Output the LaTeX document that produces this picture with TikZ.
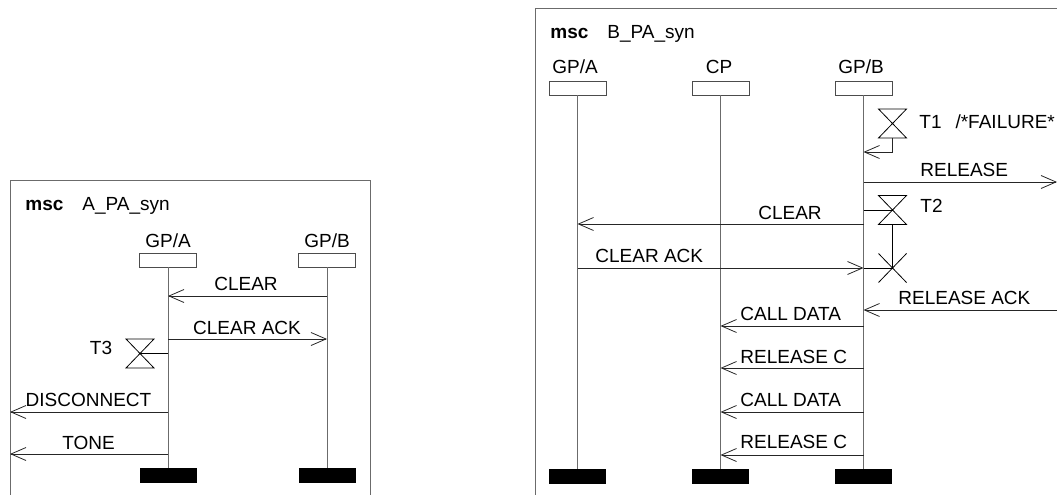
\documentclass[tikz,border=0pt]{standalone}
\usepackage{fontspec}
\setmainfont{Liberation Sans}
\usetikzlibrary{arrows.meta}

\begin{document}
\begin{tikzpicture}[x=1pt, y=-1pt, line width=0.8pt,
  every node/.style={font=\fontsize{19}{22}\selectfont, inner sep=0pt},
  title/.style={font=\fontsize{19}{22}\selectfont\bfseries, anchor=base west},
  inst/.style={draw=black!70, fill=white, minimum width=57pt, minimum height=14pt},
  endbar/.style={fill=black, minimum width=57pt, minimum height=15pt},
  life/.style={draw=black!58},
  frame/.style={draw=black!58},
  msg/.style={draw=black!85, -{Straight Barb[length=15pt,width=13pt]}},
  timer/.pic={\draw (-14,-14.5) -- (14,-14.5) -- (-14,14.5) -- (14,14.5) -- cycle;}]
  \useasboundingbox (0,0) rectangle (1057,495);
  \clip (0,0) rectangle (1057,495);

  % msc A_PA_syn
  \draw[frame] (10,180) rectangle (370,520);
  \node[title] (la_msc) at (25,210) {msc};
  \node[anchor=base west] (la_name) at (82,210) {A\_PA\_syn};

  \node[inst] (la_gpa) at (168,260) {};
  \node[inst] (la_gpb) at (327,260) {};
  \node[anchor=base] (la_gpa_t) at (168,247) {GP/A};
  \node[anchor=base] (la_gpb_t) at (327,247) {GP/B};
  \node[endbar] (la_enda) at (168,475.5) {};
  \node[endbar] (la_endb) at (327,475.5) {};
  \draw[life] (la_gpa) -- (la_enda);
  \draw[life] (la_gpb) -- (la_endb);

  \draw[msg] (la_gpb |- 0,296) -- (la_gpa |- 0,296);
  \node[anchor=base] (la_m1) at (246,290) {CLEAR};
  \draw[msg] (la_gpa |- 0,339) -- (la_gpb |- 0,339);
  \node[anchor=base] (la_m2) at (247,334) {CLEAR ACK};

  \coordinate (la_t3) at (140,353.5);
  \pic at (la_t3) {timer};
  \draw (la_gpa |- la_t3) -- (la_t3);
  \node[anchor=base] (la_t3_t) at (101,354) {T3};

  \coordinate (la_env1) at (10,412);
  \coordinate (la_env2) at (10,454);
  \draw[msg] (la_gpa |- la_env1) -- (la_env1);
  \node[anchor=base] (la_m3) at (88.5,406) {DISCONNECT};
  \draw[msg] (la_gpa |- la_env2) -- (la_env2);
  \node[anchor=base] (la_m4) at (88.5,449) {TONE};

  % msc B_PA_syn
  \draw[frame] (535,8) rectangle (1090,520);
  \node[title] (rb_msc) at (550,38) {msc};
  \node[anchor=base west] (rb_name) at (607,38) {B\_PA\_syn};

  \node[inst] (rb_gpa) at (577.5,88) {};
  \node[inst] (rb_cp) at (720.5,88) {};
  \node[inst] (rb_gpb) at (863.5,88) {};
  \node[anchor=base] (rb_gpa_t) at (575,74) {GP/A};
  \node[anchor=base] (rb_cp_t) at (719,74) {CP};
  \node[anchor=base] (rb_gpb_t) at (861,74) {GP/B};
  \node[endbar] (rb_enda) at (577.5,476.5) {};
  \node[endbar] (rb_endc) at (720.5,476.5) {};
  \node[endbar] (rb_endb) at (863.5,476.5) {};
  \draw[life] (rb_gpa) -- (rb_enda);
  \draw[life] (rb_cp) -- (rb_endc);
  \draw[life] (rb_gpb) -- (rb_endb);

  \coordinate (rb_t1) at (892.5,123.5);
  \coordinate (rb_t1b) at (892.5,138);
  \pic at (rb_t1) {timer};
  \draw[msg] (rb_t1b) |- (rb_gpb |- 0,152);
  \node[anchor=base west] (rb_t1_t) at (919,128) {T1\hspace{14pt}/*FAILURE*};

  \coordinate (rb_env1) at (1057,182);
  \draw[msg] (rb_gpb |- rb_env1) -- (rb_env1);
  \node[anchor=base west] (rb_m1) at (920,176) {RELEASE};

  \coordinate (rb_t2) at (892.5,210);
  \coordinate (rb_t2b) at (892.5,224.5);
  \pic at (rb_t2) {timer};
  \draw (rb_gpb |- rb_t2) -- (rb_t2);
  \node[anchor=base west] (rb_t2_t) at (920,212) {T2};

  \coordinate (rb_x) at (892.5,268);
  \draw (rb_x) +(-14,-14.5) -- +(14,14.5) (rb_x) +(14,-14.5) -- +(-14,14.5);
  \draw (rb_t2b) -- (rb_x);

  \draw[msg] (rb_gpb |- 0,224) -- (rb_gpa |- 0,224);
  \node[anchor=base] (rb_m2) at (790,219) {CLEAR};
  \draw[msg] (rb_gpa |- rb_x) -- (rb_gpb |- rb_x);
  \draw (rb_gpb |- rb_x) -- (rb_x);
  \node[anchor=base west] (rb_m3) at (595,262) {CLEAR ACK};

  \coordinate (rb_env2) at (1057,310);
  \draw[msg] (rb_env2) -- (rb_gpb |- rb_env2);
  \node[anchor=base west] (rb_m4) at (898,304) {RELEASE ACK};

  \draw[msg] (rb_gpb |- 0,326) -- (rb_cp |- 0,326);
  \node[anchor=base west] (rb_m5) at (740,320) {CALL DATA};
  \draw[msg] (rb_gpb |- 0,368) -- (rb_cp |- 0,368);
  \node[anchor=base west] (rb_m6) at (740,363) {RELEASE C};
  \draw[msg] (rb_gpb |- 0,412) -- (rb_cp |- 0,412);
  \node[anchor=base west] (rb_m7) at (740,406) {CALL DATA};
  \draw[msg] (rb_gpb |- 0,455) -- (rb_cp |- 0,455);
  \node[anchor=base west] (rb_m8) at (740,448) {RELEASE C};
\end{tikzpicture}
\end{document}
